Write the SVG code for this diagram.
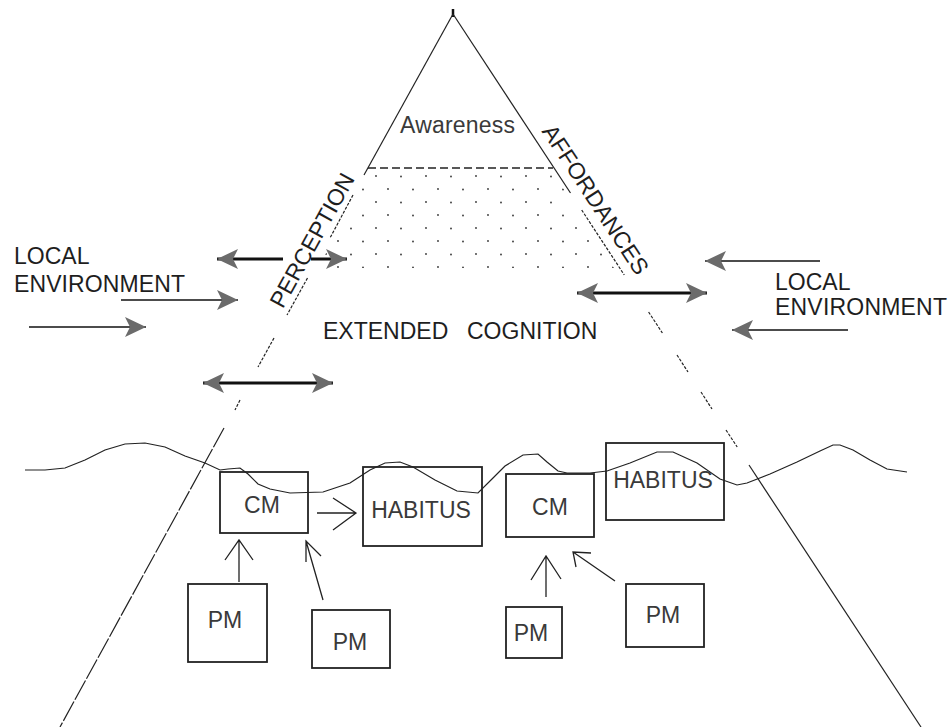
<svg xmlns="http://www.w3.org/2000/svg" width="950" height="727" viewBox="0 0 950 727">
<style>
text{font-family:"Liberation Sans",Arial,sans-serif;font-size:23px;fill:#1e1e1e}
.lbl{fill:#3a3a3a}
.ln{stroke:#222;stroke-width:1.2;fill:none}
.fd{stroke:#222;stroke-width:1.2;fill:none;stroke-dasharray:3 1.5}
.box{fill:none;stroke:#222;stroke-width:1.8}
.thin{stroke:#111;stroke-width:1.6;fill:none}
.thick{stroke:#111;stroke-width:3.2;fill:none}
.open{stroke:#222;stroke-width:1.3;fill:none}
</style>
<defs>
<marker id="gh" markerUnits="userSpaceOnUse" markerWidth="22" markerHeight="22" refX="21" refY="11" orient="auto-start-reverse" viewBox="0 0 22 22">
<path d="M0,1 L21,11 L0,21 L5,11 z" fill="#6b6b6b"/>
</marker>
<pattern id="dots" width="50" height="26" patternUnits="userSpaceOnUse" x="372" y="172">
<circle cx="4" cy="4" r="0.9" fill="#333"/>
<circle cx="29" cy="4.5" r="0.9" fill="#333"/>
<circle cx="16" cy="17" r="0.9" fill="#333"/>
<circle cx="41" cy="17.5" r="0.9" fill="#333"/>
</pattern>
</defs>
<rect width="950" height="727" fill="#fff"/>

<!-- pyramid -->
<g id="pyramid">
<line x1="453" y1="9" x2="453" y2="17" stroke="#111" stroke-width="2.5"/>
<line class="ln" x1="453" y1="14" x2="364" y2="175"/>
<line class="fd" x1="353" y1="195" x2="330" y2="238"/>
<line class="fd" x1="307.5" y1="278" x2="287" y2="315"/>
<line class="fd" x1="274" y1="338" x2="258" y2="367"/>
<line class="fd" x1="240" y1="400" x2="235" y2="410"/>
<line class="ln" x1="224" y1="428" x2="60" y2="727" stroke-dasharray="22 2"/>
<line class="ln" x1="453" y1="14" x2="570.5" y2="193"/>
<line class="fd" x1="581.7" y1="210" x2="624.3" y2="275"/>
<line class="fd" x1="648.6" y1="312" x2="662.4" y2="333"/>
<line class="fd" x1="677" y1="355" x2="688" y2="372"/>
<line class="fd" x1="701" y1="392" x2="712" y2="409"/>
<line class="fd" x1="726" y1="430" x2="737.2" y2="447"/>
<line class="ln" x1="749" y1="465" x2="921" y2="727"/>
<line x1="368" y1="168" x2="553" y2="168" stroke="#222" stroke-width="1.4" stroke-dasharray="8 4"/>
<polygon points="370,172 553,172 614,268 318,268" fill="url(#dots)"/>
</g>

<!-- wave -->
<path id="surface" class="ln" d="M25,470 L45,470 L65,468 L85,460 L105,450 L125,444 L145,443 L165,447 L185,456 L205,463 L220,470 L228,469 L240,468 L248,474 L258,484 L270,489 L290,493 L323,492 L350,483 L370,470 L385,463 L400,462 L413,467 L435,480 L457,491 L478,493 L493,478 L505,466 L523,455 L538,454 L547,462 L558,471 L567,473 L590,473 L607,471 L630,463 L657,452 L673,452 L697,463 L720,479 L737,485 L747,483 L770,474 L797,462 L820,451 L833,445 L840,445 L853,450 L870,460 L887,469 L907,472"/>

<!-- labels -->
<text x="400" y="133" class="lbl" textLength="115">Awareness</text>
<text x="319" y="244" transform="rotate(-61 319 244)" text-anchor="middle">PERCEPTION</text>
<text x="589" y="204" transform="rotate(56.7 589 204)" text-anchor="middle">AFFORDANCES</text>
<text x="14" y="264">LOCAL</text>
<text x="14" y="292" textLength="171">ENVIRONMENT</text>
<text x="775" y="290">LOCAL</text>
<text x="775" y="315" textLength="172">ENVIRONMENT</text>
<text x="323" y="339" fill="#2a2a2a">EXTENDED <tspan x="467">COGNITION</tspan></text>

<!-- nodes -->
<g id="cm1"><rect class="box" x="220" y="472" width="88" height="61"/><text class="lbl" x="262" y="513" text-anchor="middle">CM</text></g>
<g id="habitus1"><rect class="box" x="363" y="467" width="119" height="79"/><text class="lbl" x="421" y="518" text-anchor="middle">HABITUS</text></g>
<g id="cm2"><rect class="box" x="506" y="474" width="88" height="63"/><text class="lbl" x="550" y="515" text-anchor="middle">CM</text></g>
<g id="habitus2"><rect class="box" x="606" y="443" width="118" height="77"/><text class="lbl" x="663" y="488" text-anchor="middle">HABITUS</text></g>
<g id="pm1"><rect class="box" x="188" y="584" width="79" height="78"/><text class="lbl" x="225" y="628" text-anchor="middle">PM</text></g>
<g id="pm2"><rect class="box" x="312" y="610" width="78" height="58"/><text class="lbl" x="350" y="650" text-anchor="middle">PM</text></g>
<g id="pm3"><rect class="box" x="506" y="607" width="56" height="51"/><text class="lbl" x="531" y="641" text-anchor="middle">PM</text></g>
<g id="pm4"><rect class="box" x="626" y="584" width="78" height="63"/><text class="lbl" x="663" y="623" text-anchor="middle">PM</text></g>

<!-- connectors -->
<g id="connectors">
<line class="thick" x1="217" y1="259" x2="283" y2="259" marker-start="url(#gh)"/>
<line class="thick" x1="311" y1="259" x2="347" y2="259" marker-end="url(#gh)"/>
<line class="thick" x1="203" y1="383" x2="333" y2="383" marker-start="url(#gh)" marker-end="url(#gh)"/>
<line class="thick" x1="577" y1="293" x2="707" y2="293" marker-start="url(#gh)" marker-end="url(#gh)"/>
<line class="thin" x1="121" y1="300" x2="238" y2="300" marker-end="url(#gh)"/>
<line class="thin" x1="29" y1="327" x2="146" y2="327" marker-end="url(#gh)"/>
<line class="thin" x1="820" y1="261" x2="705" y2="261" marker-end="url(#gh)"/>
<line class="thin" x1="848" y1="330" x2="732" y2="330" marker-end="url(#gh)"/>
<path class="open" d="M317,513 L356,513 M333,498 L356,513 L333,530"/>
<path class="open" d="M239,582 L239,540 M225,560 L239,540 L253,560"/>
<path class="open" d="M323,600 L306,541 M306,562 L306,541 L321,556"/>
<path class="open" d="M546,597 L546,556 M531,580 L546,556 L561,579"/>
<path class="open" d="M615,581 L573,552 M591,553 L573,552 L576,567"/>
</g>
</svg>
